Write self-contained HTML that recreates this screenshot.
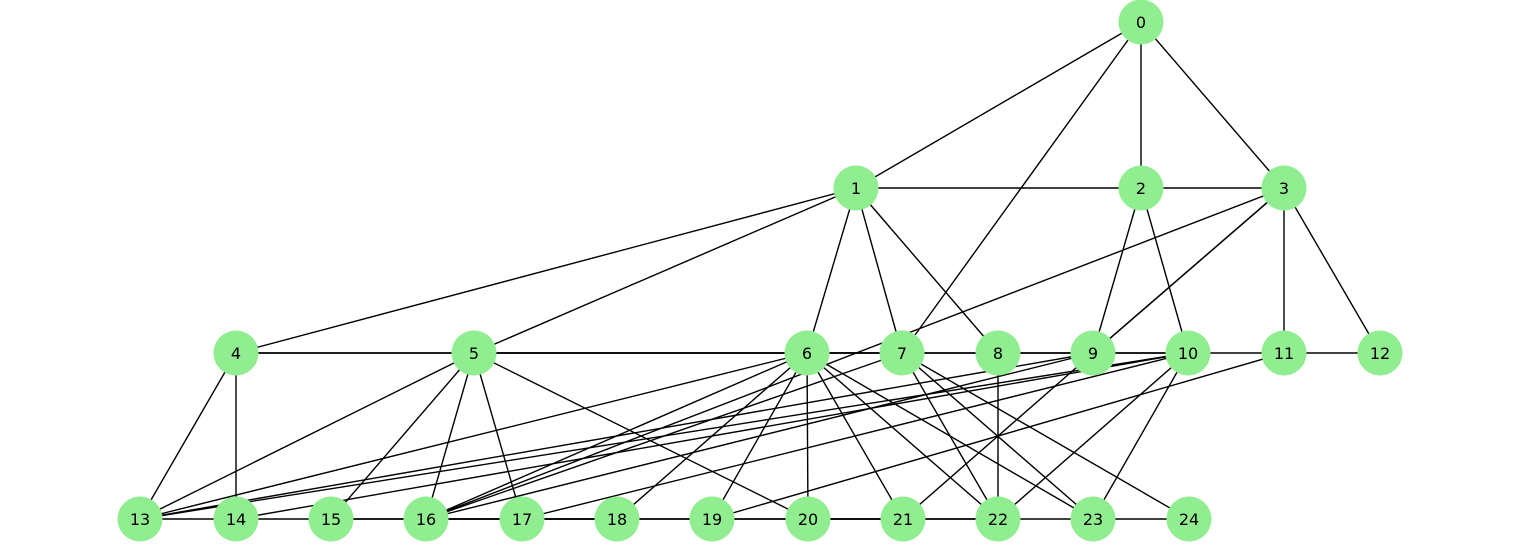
<!DOCTYPE html>
<html><head><style>html,body{margin:0;padding:0;background:#fff;}</style></head>
<body>
<svg width="1520" height="543" xmlns="http://www.w3.org/2000/svg" font-family="DejaVu Sans, Liberation Sans, sans-serif" font-size="16">
<g stroke="#000" stroke-width="1.4" id="e"></g>
<g id="n"></g>
</svg>
<script>
const P={0:[1141,22],1:[856,188],2:[1141,188],3:[1284,188],4:[236,353],5:[474,353],6:[807,353],7:[902,353],8:[998,353],9:[1093,353],10:[1188,353],11:[1284,353],12:[1380,353],
13:[140,519],14:[236,519],15:[331,519],16:[426,519],17:[522,519],18:[617,519],19:[712,519],20:[808,519],21:[903,519],22:[998,519],23:[1093,519],24:[1189,519]};
const E=[[0,1],[0,2],[0,3],[0,7],[1,2],[2,3],[1,4],[1,5],[1,6],[1,7],[1,8],[2,9],[2,10],[3,9],[3,9],[3,11],[3,12],[3,16],
[4,5],[4,6],[5,6],[5,7],[6,7],[7,8],[6,8],[8,9],[9,10],[8,10],[10,11],[11,12],
[13,14],[14,15],[15,16],[15,17],[16,17],[17,18],[16,18],[18,19],[17,19],[19,20],[20,21],[19,21],[21,22],[20,22],[22,23],[23,24],
[4,13],[4,14],[5,13],[5,15],[5,16],[5,17],[5,20],[6,13],[6,16],[6,18],[6,19],[6,20],[6,21],[6,22],[6,23],
[7,16],[7,22],[7,23],[7,24],[8,22],[9,13],[9,16],[9,21],[10,13],[10,14],[10,17],[10,22],[10,23],[11,19]];
const ns="http://www.w3.org/2000/svg";
const eg=document.getElementById('e'),ng=document.getElementById('n');
for(const [a,b] of E){const l=document.createElementNS(ns,'line');l.setAttribute('x1',P[a][0]);l.setAttribute('y1',P[a][1]);l.setAttribute('x2',P[b][0]);l.setAttribute('y2',P[b][1]);eg.appendChild(l);}
for(const k in P){const c=document.createElementNS(ns,'circle');c.setAttribute('cx',P[k][0]);c.setAttribute('cy',P[k][1]);c.setAttribute('r',22.5);c.setAttribute('fill','#90ee90');ng.appendChild(c);
const t=document.createElementNS(ns,'text');t.setAttribute('x',P[k][0]);t.setAttribute('y',P[k][1]+6);t.setAttribute('text-anchor','middle');t.textContent=k;ng.appendChild(t);}
</script>
</body></html>
